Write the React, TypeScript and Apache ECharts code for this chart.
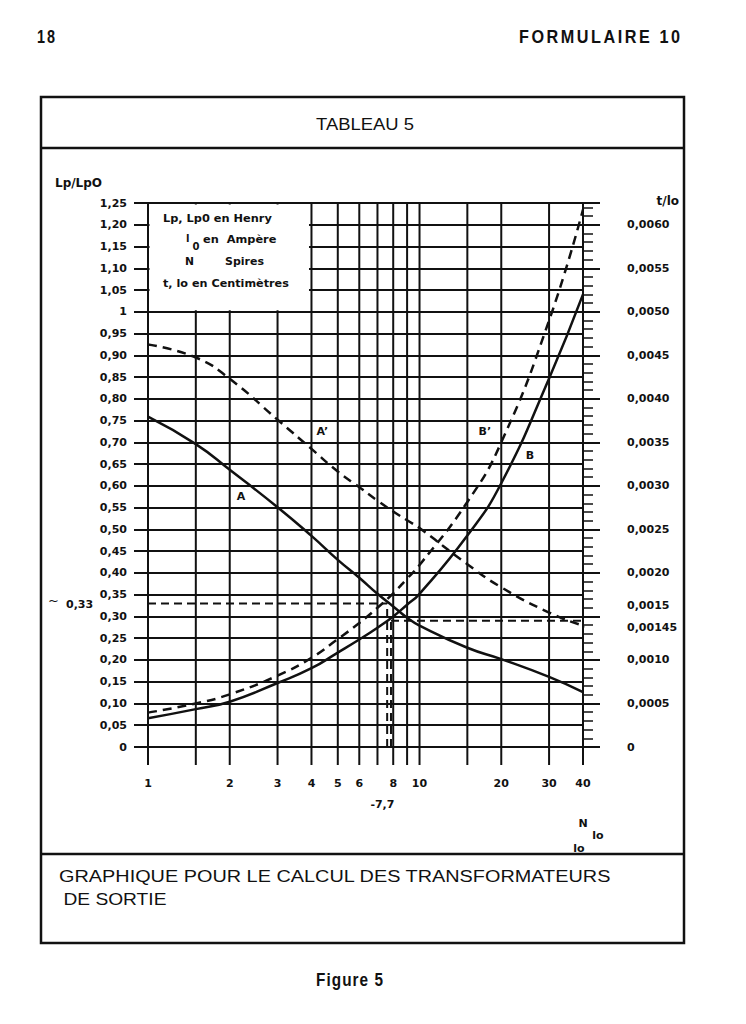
import React, { useEffect, useRef } from "react";
import * as echarts from "echarts";

const INK = "#111";
const AX_FONT = "DejaVu Sans";

// X axis (N / Io, logarithmic) grid ticks and their labels
const xTicks = [1, 1.5, 2, 3, 4, 5, 6, 7, 8, 9, 10, 15, 20, 30, 40];
const xTickLabels = ["1", "", "2", "3", "4", "5", "6", "", "8", "", "10", "", "20", "30", "40"];

// Left axis Lp/Lp0, right axis t/lo
const leftMax = 1.25;
const leftStep = 0.05;
const rightMax = 0.00625;
const rightStep = 0.0005;

// Curves
const nValues = [1, 1.5, 2, 3, 4, 5, 6, 7, 8, 9, 10, 15, 20, 30, 40];
const curveA = [0.759, 0.696, 0.637, 0.551, 0.485, 0.43, 0.389, 0.352, 0.323, 0.297, 0.279, 0.228, 0.202, 0.161, 0.126];
const curveB = [0.066, 0.087, 0.104, 0.147, 0.181, 0.217, 0.247, 0.274, 0.3, 0.327, 0.352, 0.486, 0.606, 0.847, 1.04];
const curveBPrime = [0.079, 0.1, 0.121, 0.164, 0.205, 0.248, 0.285, 0.32, 0.353, 0.387, 0.418, 0.563, 0.7, 0.98, 1.235];
const aPrimeN = [1, 1.5, 2, 3, 4, 5, 6, 7, 8, 9, 10, 15, 20, 30, 40, 44];
const curveAPrime = [0.925, 0.895, 0.846, 0.752, 0.685, 0.633, 0.597, 0.566, 0.541, 0.521, 0.503, 0.42, 0.367, 0.309, 0.279, 0.275];

// Dashed reading lines (example: ~0.33 and 0.00145 at N/Io = 7.7)
const refH33 = [[1, 0.33], [7.6, 0.33]];
const refV76 = [[7.6, 0], [7.6, 0.33]];
const refV785 = [[7.85, 0], [7.85, 0.29]];
const refH29 = [[7.85, 0.29], [44, 0.29]];

// Curve labels
const curveLabelText = ["A", "A’", "B’", "B"];
const curveLabelN = [2.2, 4.39, 17.4, 25.5];
const curveLabelV = [0.575, 0.726, 0.726, 0.669];

// Legend box extent (data coords)
const legendBoxN = 3.95;
const legendBoxV = 1.0;

function fmtLeft(v: number) {
  const r = Math.round(v * 100) / 100;
  if (r === 0) return "0";
  if (r === 1) return "1";
  return r.toFixed(2).replace(".", ",");
}
function fmtRight(v: number) {
  const r = Math.round(v * 1e5) / 1e5;
  if (r === 0) return "0";
  if (Math.abs(r - 0.0015) < 1e-9 || r > 0.0061) return "";
  return r.toFixed(4).replace(".", ",");
}

let measureCtx: CanvasRenderingContext2D | null = null;
function measure(txt: string, font: string) {
  if (!measureCtx) measureCtx = document.createElement("canvas").getContext("2d");
  measureCtx!.font = font;
  return measureCtx!.measureText(txt).width;
}

function fitText(txt: string, x: number, y: number, font: string, width: number, z = 20) {
  const w = measure(txt, font) || width;
  return {
    type: "text",
    x,
    y,
    scaleX: width / w,
    z,
    style: { text: txt, font, fill: INK, textAlign: "left", textVerticalAlign: "middle" },
  };
}

// letter-spaced, horizontally condensed text filling [x1, x2]
function spacedText(txt: string, x1: number, x2: number, y: number, font: string, sx: number) {
  const chars = Array.from(txt);
  const widths = chars.map((c) => measure(c, font) * sx);
  const sum = widths.reduce((a, b) => a + b, 0);
  let gap = chars.length > 1 ? (x2 - x1 - sum) / (chars.length - 1) : 0;
  let scale = sx;
  if (gap < 0.5) {
    scale = (sx * (x2 - x1 - 0.5 * (chars.length - 1))) / sum;
    gap = 0.5;
  }
  let cx = x1;
  return chars.map((c, i) => {
    const el = {
      type: "text",
      x: cx,
      y,
      z: 20,
      scaleX: scale,
      style: { text: c, font, fill: INK, textAlign: "left", textVerticalAlign: "middle" },
    };
    cx += (widths[i] / sx) * scale + gap;
    return el;
  });
}

function plainText(txt: string, x: number, y: number, size: number, align = "center", weight = "bold") {
  return {
    type: "text",
    x,
    y,
    z: 20,
    style: {
      text: txt,
      font: `${weight} ${size}px "${AX_FONT}"`,
      fill: INK,
      textAlign: align,
      textVerticalAlign: "middle",
    },
  };
}

export default function App() {
  const ref = useRef<HTMLDivElement>(null);

  useEffect(() => {
    if (!ref.current) return;
    const chart = echarts.init(ref.current, null, { renderer: "svg" });

    const dashed = [9, 6];
    const lineSeries = (data: number[][], dash: boolean, width = 2.5, clip = true) => ({
      type: "line",
      data,
      showSymbol: false,
      symbol: "none",
      smooth: 0.5,
      clip,
      z: 5,
      silent: true,
      lineStyle: { color: INK, width, type: dash ? dashed : "solid" },
    });
    const refSeries = (data: number[][]) => ({
      type: "line",
      data,
      showSymbol: false,
      symbol: "none",
      clip: false,
      z: 6,
      silent: true,
      lineStyle: { color: INK, width: 2, type: [8, 5] },
    });

    const option: any = {
      animation: false,
      backgroundColor: "#fff",
      grid: { left: 148, right: 163, top: 203, bottom: 277, containLabel: false },
      xAxis: {
        type: "log",
        logBase: 10,
        min: 1,
        max: 40,
        axisLine: { show: false },
        axisTick: { show: false },
        axisLabel: { show: false },
        splitLine: { show: false },
        minorTick: { show: false },
        minorSplitLine: { show: false },
      },
      yAxis: [
        {
          type: "value",
          position: "left",
          min: 0,
          max: leftMax,
          interval: leftStep,
          axisLine: { show: true, onZero: false, lineStyle: { color: INK, width: 2 } },
          axisTick: { show: true, length: 14, lineStyle: { color: INK, width: 2 } },
          axisLabel: {
            margin: 21,
            formatter: fmtLeft,
            color: INK,
            fontSize: 11,
            fontWeight: "bold",
            fontFamily: AX_FONT,
            padding: [0, 0, 6, 0],
          },
          splitLine: { show: true, lineStyle: { color: INK, width: 2 } },
        },
        {
          type: "value",
          position: "right",
          min: 0,
          max: rightMax,
          interval: rightStep,
          axisLine: { show: true, onZero: false, lineStyle: { color: INK, width: 2 } },
          axisTick: { show: true, length: 17, lineStyle: { color: INK, width: 2 } },
          minorTick: { show: true, splitNumber: 5, length: 10, lineStyle: { color: INK, width: 1.5 } },
          axisLabel: {
            margin: 44,
            formatter: fmtRight,
            color: INK,
            fontSize: 11,
            fontWeight: "bold",
            fontFamily: AX_FONT,
            padding: [0, 0, 8, 0],
          },
          splitLine: { show: false },
        },
      ],
      series: [
        {
          type: "custom",
          coordinateSystem: "cartesian2d",
          data: xTicks.map((v) => [v, 0]),
          clip: false,
          silent: true,
          z: 1,
          renderItem: (params: any, api: any) => {
            const x = api.value(0);
            const b = api.coord([x, 0]);
            const t = api.coord([x, leftMax]);
            const label = xTickLabels[params.dataIndex];
            return {
              type: "group",
              children: [
                {
                  type: "line",
                  shape: { x1: b[0], y1: b[1] + 18, x2: t[0], y2: t[1] },
                  style: { stroke: INK, lineWidth: 2 },
                },
                {
                  type: "text",
                  x: b[0],
                  y: b[1] + 36,
                  style: {
                    text: label,
                    font: `bold 11px "${AX_FONT}"`,
                    fill: INK,
                    textAlign: "center",
                    textVerticalAlign: "middle",
                  },
                },
              ],
            };
          },
        },
        lineSeries(nValues.map((n, i) => [n, curveA[i]]), false),
        lineSeries(aPrimeN.map((n, i) => [n, curveAPrime[i]]), true, 2.5, false),
        lineSeries(nValues.map((n, i) => [n, curveB[i]]), false),
        lineSeries(nValues.map((n, i) => [n, curveBPrime[i]]), true),
        refSeries(refH33),
        refSeries(refV76),
        refSeries(refV785),
        refSeries(refH29),
      ],
    };
    chart.setOption(option);

    const toPx = (n: number, v: number) => chart.convertToPixel({ gridIndex: 0 }, [n, v]) as number[];
    const rightPx = (v: number) => chart.convertToPixel({ yAxisIndex: 1 }, v) as number;

    const p1 = toPx(1, leftMax);
    const p2 = toPx(legendBoxN, legendBoxV);
    const y33 = toPx(1, 0.33)[1];
    const p77 = toPx(7.3, 0);
    const p40 = toPx(40, 0);

    const SANS = '"Liberation Sans", Arial, sans-serif';
    const COND = 'bold 18px "Liberation Sans", Arial, sans-serif';
    const LEG = `bold 10px "${AX_FONT}"`;

    const graphic: any[] = [
      // page frame
      {
        type: "rect",
        z: 0,
        shape: { x: 41, y: 97, width: 643, height: 846 },
        style: { fill: "none", stroke: INK, lineWidth: 2.5 },
      },
      { type: "line", z: 0, shape: { x1: 41, y1: 148, x2: 684, y2: 148 }, style: { stroke: INK, lineWidth: 2.5 } },
      { type: "line", z: 0, shape: { x1: 41, y1: 854, x2: 684, y2: 854 }, style: { stroke: INK, lineWidth: 2.5 } },
      ...spacedText("18", 37, 55, 36, COND, 0.8),
      ...spacedText("FORMULAIRE 10", 519, 680, 37, COND, 0.9),
      ...spacedText("Figure 5", 316, 383, 980, COND, 0.85),
      fitText("TABLEAU 5", 316, 124, `17px ${SANS}`, 98),
      fitText("GRAPHIQUE POUR LE CALCUL DES TRANSFORMATEURS", 59, 876, `16.5px ${SANS}`, 553),
      fitText("DE SORTIE", 63.5, 899, `16.5px ${SANS}`, 103),
      // legend box
      {
        type: "rect",
        z: 3,
        shape: { x: p1[0] + 1.5, y: p1[1] + 1.5, width: p2[0] - p1[0] - 2.5, height: p2[1] - p1[1] - 3 },
        style: { fill: "#fff", stroke: "none" },
      },
      fitText("Lp, Lp0 en Henry", 163, 219, LEG, 109),
      fitText("I", 186, 238.5, LEG, 3.5),
      fitText("0", 192.5, 246.5, LEG, 7),
      fitText("en  Ampère", 203, 239.5, LEG, 73.5),
      fitText("N", 185, 261, LEG, 9),
      fitText("Spires", 225, 261.5, LEG, 39),
      fitText("t, lo en Centimètres", 163, 283.5, LEG, 126),
      // axis titles
      plainText("Lp/LpO", 55, 183, 12, "left"),
      plainText("t/lo", 679, 201, 12, "right"),
      plainText("N", p40[0], 823, 11, "center"),
      plainText("lo", 598, 835, 11, "center"),
      plainText("lo", 579, 848, 11, "center"),
      plainText("-7,7", p77[0], p77[1] + 57, 11, "center"),
      plainText("~", 48, y33 - 3, 13, "left", "normal"),
      plainText("0,33", 66, y33 + 1.5, 11, "left"),
      plainText("0,0015", 627, rightPx(0.0015) - 11, 11, "left"),
      plainText("0,00145", 627, rightPx(0.00145) + 7, 11, "left"),
      // curve labels
      ...curveLabelText.map((t, i) => {
        const p = toPx(curveLabelN[i], curveLabelV[i]);
        return plainText(t, p[0], p[1], 11, "center");
      }),
    ];
    chart.setOption({ graphic });

    return () => chart.dispose();
  }, []);

  return (
    <div
      ref={ref}
      style={{ position: "absolute", left: 0, top: 0, width: 746, height: 1024, background: "#fff" }}
    />
  );
}
